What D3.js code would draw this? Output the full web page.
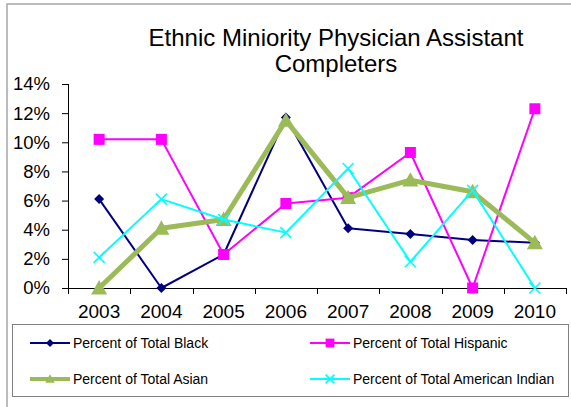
<!DOCTYPE html>
<html>
<head>
<meta charset="utf-8">
<script src="https://cdn.jsdelivr.net/npm/d3@7"></script>
<style>
  body { margin: 0; background: #fff; }
  svg { display: block; font-family: "Liberation Sans", Arial, sans-serif; }
</style>
</head>
<body>
<div id="chart"></div>
<script>
// Chart data.
const years = [ '2003', '2004', '2005', '2006', '2007', '2008', '2009', '2010' ];
const black = [ 6.1, 0.0, 2.3, 11.7, 4.1, 3.7, 3.3, 3.1 ];
const hispanic = [ 10.2, 10.2, 2.3, 5.8, 6.2, 9.3, 0.0, 12.3 ];
const asian = [ 0.0, 4.1, 4.7, 11.5, 6.2, 7.4, 6.6, 3.1 ];
const americanIndian = [ 2.1, 6.1, 4.7, 3.8, 8.2, 1.8, 6.7, 0.0 ];
const yTicks = [ 0, 2, 4, 6, 8, 10, 12, 14 ];

const series = [
  { name: 'Percent of Total Black', values: black, color: '#000080', width: 2, marker: 'diamond' },
  { name: 'Percent of Total Hispanic', values: hispanic, color: '#ff00ff', width: 2, marker: 'square' },
  { name: 'Percent of Total Asian', values: asian, color: '#9bbb59', width: 5, marker: 'triangle' },
  { name: 'Percent of Total American Indian', values: americanIndian, color: '#00ffff', width: 2, marker: 'cross' }
];

const W = 571, H = 407;
const plot = { left: 68, right: 566, top: 84, bottom: 288 };

const svg = d3.select( '#chart' ).append( 'svg' )
  .attr( 'width', W )
  .attr( 'height', H );

// Outer chart border (only left and top edges are in view).
svg.append( 'rect' )
  .attr( 'x', 7 ).attr( 'y', 4 )
  .attr( 'width', 700 ).attr( 'height', 600 )
  .attr( 'fill', 'none' )
  .attr( 'stroke', '#a6a6a6' )
  .attr( 'stroke-width', 1.5 );

// Title.
const title = svg.append( 'text' )
  .attr( 'text-anchor', 'middle' )
  .style( 'font-size', '24px' )
  .attr( 'fill', '#000' );
title.append( 'tspan' ).attr( 'x', 336 ).attr( 'y', 46 ).text( 'Ethnic Miniority Physician Assistant' );
title.append( 'tspan' ).attr( 'x', 336 ).attr( 'y', 72 ).text( 'Completers' );

// Scales.
const xBand = d3.scaleBand()
  .domain( years )
  .range( [ plot.left, plot.right ] );
const xPoint = d => xBand( d ) + xBand.bandwidth() / 2;
const yScale = d3.scaleLinear()
  .domain( [ 0, 14 ] )
  .range( [ plot.bottom, plot.top ] );

// Y axis.
const yAxis = svg.append( 'g' )
  .attr( 'transform', 'translate(' + plot.left + ',0)' )
  .call( d3.axisLeft( yScale )
    .tickValues( yTicks )
    .tickSize( 6 )
    .tickPadding( 12 )
    .tickFormat( d => d + '%' ) );
yAxis.select( '.domain' ).attr( 'stroke', '#000' ).attr( 'd', 'M0.5,' + plot.top + 'V' + plot.bottom );
yAxis.selectAll( 'line' ).attr( 'stroke', '#000' );
yAxis.selectAll( 'text' )
  .style( 'font-size', '18.5px' )
  .attr( 'fill', '#000' )
  .attr( 'font-family', null );

// X axis: category labels in the middle, tick marks on the boundaries.
const xAxis = svg.append( 'g' )
  .attr( 'transform', 'translate(0,' + plot.bottom + ')' );
xAxis.append( 'line' )
  .attr( 'x1', plot.left ).attr( 'x2', plot.right )
  .attr( 'y1', 0.5 ).attr( 'y2', 0.5 )
  .attr( 'stroke', '#000' );
const boundaries = years.map( d => xBand( d ) ).concat( [ plot.right ] );
xAxis.selectAll( 'line.tick' )
  .data( boundaries )
  .enter()
  .append( 'line' )
    .attr( 'class', 'tick' )
    .attr( 'x1', d => Math.round( d ) + 0.5 ).attr( 'x2', d => Math.round( d ) + 0.5 )
    .attr( 'y1', 0 ).attr( 'y2', 6 )
    .attr( 'stroke', '#000' );
xAxis.selectAll( 'text' )
  .data( years )
  .enter()
  .append( 'text' )
    .attr( 'x', d => xPoint( d ) )
    .attr( 'y', 30 )
    .attr( 'text-anchor', 'middle' )
    .style( 'font-size', '19px' )
    .attr( 'fill', '#000' )
    .text( d => d );

// Marker drawing helper.
function drawMarker( g, type, cx, cy, color, scale ){
  const s = scale || 1;
  if( type == 'diamond' ){
    const r = 5 * s;
    g.append( 'path' )
      .attr( 'd', 'M' + cx + ',' + ( cy - r ) + 'L' + ( cx + r ) + ',' + cy + 'L' + cx + ',' + ( cy + r ) + 'L' + ( cx - r ) + ',' + cy + 'Z' )
      .attr( 'fill', color );
  } else if( type == 'square' ){
    const r = 5.5 * s;
    g.append( 'rect' )
      .attr( 'x', cx - r ).attr( 'y', cy - r )
      .attr( 'width', 2 * r ).attr( 'height', 2 * r )
      .attr( 'fill', color );
  } else if( type == 'triangle' ){
    const r = 8 * s;
    g.append( 'path' )
      .attr( 'd', 'M' + cx + ',' + ( cy - r ) + 'L' + ( cx + r ) + ',' + ( cy + r * 0.8 ) + 'L' + ( cx - r ) + ',' + ( cy + r * 0.8 ) + 'Z' )
      .attr( 'fill', color );
  } else if( type == 'cross' ){
    const r = 5.5 * s;
    g.append( 'path' )
      .attr( 'd', 'M' + ( cx - r ) + ',' + ( cy - r ) + 'L' + ( cx + r ) + ',' + ( cy + r ) + 'M' + ( cx + r ) + ',' + ( cy - r ) + 'L' + ( cx - r ) + ',' + ( cy + r ) )
      .attr( 'stroke', color )
      .attr( 'stroke-width', 1.6 )
      .attr( 'fill', 'none' );
  }
}

// Series lines and markers, drawn in order so later series sit on top.
const line = d3.line()
  .x( ( d, i ) => xPoint( years[ i ] ) )
  .y( d => yScale( d ) );
series.forEach( function( s ){
  const g = svg.append( 'g' );
  g.append( 'path' )
    .attr( 'd', line( s.values ) )
    .attr( 'fill', 'none' )
    .attr( 'stroke', s.color )
    .attr( 'stroke-width', s.width )
    .attr( 'stroke-linejoin', 'round' );
  s.values.forEach( function( v, i ){
    drawMarker( g, s.marker, xPoint( years[ i ] ), yScale( v ), s.color );
  });
});

// Legend box.
const legend = svg.append( 'g' );
legend.append( 'rect' )
  .attr( 'x', 12.5 ).attr( 'y', 324.5 )
  .attr( 'width', 556 ).attr( 'height', 72 )
  .attr( 'fill', '#fff' )
  .attr( 'stroke', '#808080' )
  .attr( 'stroke-width', 1 );
const legendPos = [ [ 30, 343 ], [ 310, 343 ], [ 30, 379 ], [ 310, 379 ] ];
series.forEach( function( s, i ){
  const lx = legendPos[ i ][ 0 ], ly = legendPos[ i ][ 1 ];
  const g = legend.append( 'g' );
  g.append( 'line' )
    .attr( 'x1', lx ).attr( 'x2', lx + 40 )
    .attr( 'y1', ly ).attr( 'y2', ly )
    .attr( 'stroke', s.color )
    .attr( 'stroke-width', s.marker == 'triangle' ? 4 : s.width );
  drawMarker( g, s.marker, lx + 20, ly, s.color, s.marker == 'triangle' ? 0.6 : 0.8 );
  g.append( 'text' )
    .attr( 'x', lx + 43 )
    .attr( 'y', ly + 5 )
    .style( 'font-size', '14px' )
    .attr( 'fill', '#000' )
    .text( s.name );
});
</script>
</body>
</html>
